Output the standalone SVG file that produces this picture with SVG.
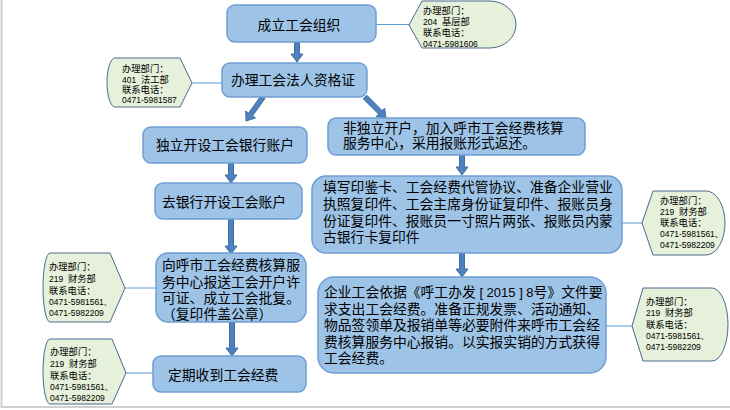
<svg xmlns="http://www.w3.org/2000/svg" width="730" height="410" viewBox="0 0 730 410">
<style>
.box{fill:#9dc3e6;stroke:#6f9fd4;stroke-width:1.5}
.call{fill:#e6f0da;stroke:#4a6a8f;stroke-width:1}
.t{font-family:"Noto Sans CJK SC","Liberation Sans",sans-serif;font-size:13.8px;fill:#000}
.s{font-family:"Liberation Sans","Noto Sans CJK SC",sans-serif;font-size:8.5px;fill:#000}
.c{font-size:9.3px}
.lat{font-family:"Liberation Sans",sans-serif;font-size:13px}
.ln{stroke:#5b9bd5;stroke-width:1;fill:none}
.fa{fill:#4f81bd;stroke:#3c6ea8;stroke-width:1}
</style>
<rect width="730" height="410" fill="#fff"/>
<path d="M1.5,0 V407 H730" fill="none" stroke="#cfcfcf" stroke-width="2"/>

<g id="connectors">
<line class="ln" x1="376" y1="24.5" x2="409" y2="24.5"/>
<line class="ln" x1="192" y1="83" x2="222" y2="83"/>
<line class="ln" x1="622" y1="223" x2="642" y2="223"/>
<line class="ln" x1="125" y1="288" x2="156" y2="288"/>
<line class="ln" x1="126" y1="373" x2="153" y2="373"/>
<line class="ln" x1="606" y1="326" x2="632" y2="326"/>
<polygon class="fa" points="294.5,42 294.5,54 291,54 297,62 303,54 299.5,54 299.5,42"/>
<polygon class="fa" points="265.0,98.4 252.6,115.9 255.5,118.0 246,121 245.7,111.0 248.6,113.1 261.0,95.6"/>
<polygon class="fa" points="363.2,98.8 378.6,114.1 376.1,116.6 386,118 384.6,108.1 382.1,110.6 366.8,95.2"/>
<polygon class="fa" points="228.5,163 228.5,175 225,175 231,183 237,175 233.5,175 233.5,163"/>
<polygon class="fa" points="228.5,219 228.5,246 225,246 231,254 237,246 233.5,246 233.5,219"/>
<polygon class="fa" points="229.5,322 229.5,348 226,348 232,356 238,348 234.5,348 234.5,322"/>
<polygon class="fa" points="459.5,155 459.5,167 456,167 462,175 468,167 464.5,167 464.5,155"/>
<polygon class="fa" points="459.5,253 459.5,269 456,269 462,277 468,269 464.5,269 464.5,253"/>
</g>

<g id="n1">
<rect class="box" x="227" y="5" width="149" height="37" rx="8"/>
<text class="t" x="299" y="30" text-anchor="middle">成立工会组织</text>
</g>
<g id="c1">
<path class="call" d="M409,25 L422,1 L490,1 A26,23.5 0 0 1 490,48 L422,48 Z"/>
<text class="s c" x="423" y="14">办理部门：</text>
<text class="s" x="423" y="24.5" xml:space="preserve">204  <tspan class="c">基层部</tspan></text>
<text class="s c" x="423" y="35.5">联系电话：</text>
<text class="s" x="423" y="46.5">0471-5981606</text>
</g>

<g id="n2">
<rect class="box" x="222" y="63" width="145" height="34" rx="8"/>
<text class="t" x="293" y="85" text-anchor="middle">办理工会法人资格证</text>
</g>
<g id="c2">
<path class="call" d="M115,58 L180,58 L192,83 L180,107 L115,107 A8,24.5 0 0 1 115,58 Z"/>
<text class="s c" x="122" y="72">办理部门：</text>
<text class="s" x="122" y="82.5" xml:space="preserve">401  <tspan class="c">法工部</tspan></text>
<text class="s c" x="122" y="92.5">联系电话：</text>
<text class="s" x="122" y="103">0471-5981587</text>
</g>

<g id="n3">
<rect class="box" x="143" y="127" width="164" height="36" rx="8"/>
<text class="t" x="225" y="150" text-anchor="middle">独立开设工会银行账户</text>
</g>
<g id="n4">
<rect class="box" x="155" y="183" width="147" height="36" rx="8"/>
<text class="t" x="162" y="207">去银行开设工会账户</text>
</g>
<g id="n5">
<rect class="box" x="156" y="253" width="150" height="69" rx="12"/>
<text class="t" x="162" y="270">向呼市工会经费核算服</text>
<text class="t" x="162" y="287">务中心报送工会开户许</text>
<text class="t" x="162" y="303">可证、成立工会批复。</text>
<text class="t" x="162" y="319">（复印件盖公章）</text>
</g>
<g id="c4">
<path class="call" d="M50,253 L110,253 L125,288 L110,322 L50,322 A7,34.5 0 0 1 50,253 Z"/>
<text class="s c" x="49" y="269.5">办理部门：</text>
<text class="s" x="49" y="281.5" xml:space="preserve">219  <tspan class="c">财务部</tspan></text>
<text class="s c" x="49" y="293.5">联系电话：</text>
<text class="s" x="49" y="305">0471-5981561、</text>
<text class="s" x="49" y="316">0471-5982209</text>
</g>
<g id="n6">
<rect class="box" x="153" y="356" width="153" height="36" rx="8"/>
<text class="t" x="168" y="380">定期收到工会经费</text>
</g>
<g id="c5">
<path class="call" d="M50,339 L112,339 L126,373 L112,404 L50,404 A7,32.5 0 0 1 50,339 Z"/>
<text class="s c" x="50" y="354.5">办理部门：</text>
<text class="s" x="50" y="366.5" xml:space="preserve">219  <tspan class="c">财务部</tspan></text>
<text class="s c" x="50" y="378.5">联系电话：</text>
<text class="s" x="50" y="389.5">0471-5981561、</text>
<text class="s" x="50" y="400.5">0471-5982209</text>
</g>

<g id="n7">
<rect class="box" x="328" y="118" width="257" height="37" rx="8"/>
<text class="t" x="343" y="133">非独立开户，加入呼市工会经费核算</text>
<text class="t" x="343" y="148">服务中心，采用报账形式返还。</text>
</g>
<g id="n8">
<rect class="box" x="312" y="176" width="310" height="77" rx="14"/>
<text class="t" x="323" y="192">填写印鉴卡、工会经费代管协议、准备企业营业</text>
<text class="t" x="323" y="209">执照复印件、工会主席身份证复印件、报账员身</text>
<text class="t" x="323" y="226">份证复印件、报账员一寸照片两张、报账员内蒙</text>
<text class="t" x="323" y="242">古银行卡复印件</text>
</g>
<g id="c3">
<path class="call" d="M642,223 L653,191 L706,191 A19,32 0 0 1 706,255 L653,255 Z"/>
<text class="s c" x="660" y="203.5">办理部门：</text>
<text class="s" x="660" y="214.5" xml:space="preserve">219  <tspan class="c">财务部</tspan></text>
<text class="s c" x="660" y="225.5">联系电话：</text>
<text class="s" x="660" y="236.5">0471-5981561、</text>
<text class="s" x="660" y="247.5">0471-5982209</text>
</g>
<g id="n9">
<rect class="box" x="318" y="277" width="288" height="96" rx="16"/>
<text class="t" x="324" y="297">企业工会依据《呼工办发<tspan class="lat" xml:space="preserve"> [ 2015 ] 8</tspan>号》文件要</text>
<text class="t" x="324" y="313.5">求支出工会经费。准备正规发票、活动通知、</text>
<text class="t" x="324" y="330">物品签领单及报销单等必要附件来呼市工会经</text>
<text class="t" x="324" y="346.5">费核算服务中心报销。以实报实销的方式获得</text>
<text class="t" x="324" y="363">工会经费。</text>
</g>
<g id="c6">
<path class="call" d="M632,326 L643,288 L712,288 A16,36.5 0 0 1 712,361 L643,361 Z"/>
<text class="s c" x="646" y="304.5">办理部门：</text>
<text class="s" x="646" y="315.5" xml:space="preserve">219  <tspan class="c">财务部</tspan></text>
<text class="s c" x="646" y="327.5">联系电话：</text>
<text class="s" x="646" y="339">0471-5981561、</text>
<text class="s" x="646" y="350">0471-5982209</text>
</g>
</svg>
